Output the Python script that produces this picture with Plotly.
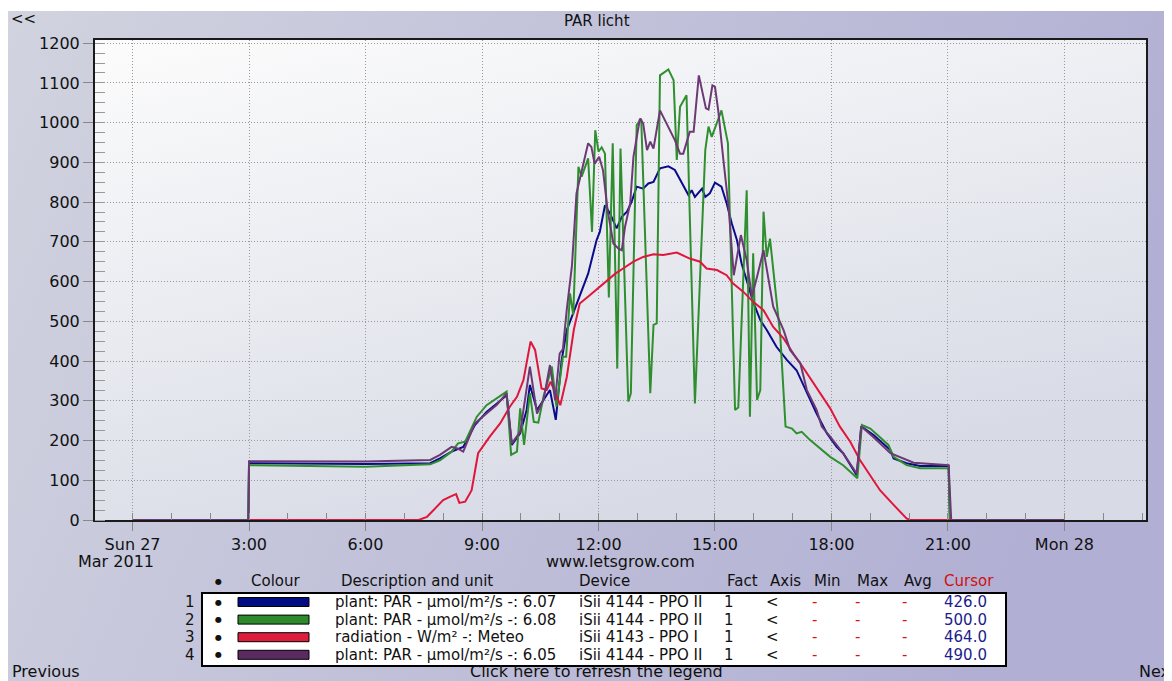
import base64
import plotly.graph_objects as go

# ---------------- data ----------------
DAY = "2011-03-27"

blue_series = [("00:00", 0), ("02:59", 0), ("03:00", 143), ("06:00", 141), ("07:40", 143), ("07:55", 155),
               ("08:13", 172), ("08:31", 184), ("08:49", 239), ("09:07", 272), ("09:23", 293), ("09:38", 314),
               ("09:46", 189), ("09:59", 218), ("10:09", 277), ("10:14", 340), ("10:25", 277), ("10:35", 302),
               ("10:45", 327), ("10:54", 252), ("11:03", 402), ("11:11", 478), ("11:21", 520), ("11:31", 562),
               ("11:44", 620), ("11:57", 704), ("12:02", 725), ("12:10", 792), ("12:18", 771), ("12:28", 734),
               ("12:36", 763), ("12:44", 776), ("12:51", 800), ("12:59", 839), ("13:09", 834), ("13:17", 847),
               ("13:25", 851), ("13:35", 885), ("13:48", 890), ("13:58", 881), ("14:09", 847), ("14:19", 818),
               ("14:24", 830), ("14:29", 813), ("14:40", 834), ("14:45", 813), ("14:52", 822), ("15:00", 849),
               ("15:10", 839), ("15:18", 797), ("15:26", 746), ("15:34", 704), ("15:41", 646), ("15:52", 587),
               ("15:59", 549), ("16:10", 503), ("16:20", 478), ("16:35", 436), ("16:51", 403), ("17:06", 377),
               ("17:22", 319), ("17:37", 268), ("17:53", 218), ("18:08", 184), ("18:18", 168), ("18:39", 113),
               ("18:46", 236), ("19:05", 214), ("19:31", 176), ("19:36", 155), ("19:56", 143), ("20:17", 136),
               ("21:01", 136), ("21:03", 0), ("23:59", 0)]

green_series = [("00:00", 0), ("02:59", 0), ("03:00", 138), ("06:00", 134), ("07:40", 140), ("07:55", 150),
                ("08:13", 172), ("08:23", 193), ("08:34", 197), ("08:52", 260), ("09:07", 289), ("09:20", 304),
                ("09:38", 323), ("09:45", 164), ("09:54", 172), ("09:59", 281), ("10:05", 189), ("10:14", 319),
                ("10:20", 247), ("10:27", 245), ("10:35", 310), ("10:48", 386), ("10:55", 285), ("11:05", 411),
                ("11:10", 411), ("11:16", 570), ("11:21", 516), ("11:29", 889), ("11:34", 864), ("11:44", 910),
                ("11:50", 725), ("11:55", 981), ("12:00", 927), ("12:05", 938), ("12:10", 922), ("12:16", 560),
                ("12:22", 948), ("12:29", 381), ("12:34", 935), ("12:46", 298), ("12:50", 319), ("12:59", 994),
                ("13:06", 1010), ("13:20", 319), ("13:25", 491), ("13:30", 495), ("13:35", 1119), ("13:48", 1134),
                ("13:56", 1107), ("14:01", 906), ("14:06", 1040), ("14:16", 1069), ("14:29", 293), ("14:45", 931),
                ("14:50", 990), ("14:55", 964), ("15:10", 1031), ("15:20", 948), ("15:31", 277), ("15:36", 283),
                ("15:49", 830), ("15:54", 260), ("15:59", 671), ("16:05", 302), ("16:10", 327), ("16:15", 776),
                ("16:20", 662), ("16:25", 708), ("16:33", 579), ("16:41", 461), ("16:49", 235), ("16:59", 230),
                ("17:06", 218), ("17:14", 222), ("17:27", 201), ("17:40", 184), ("17:58", 159), ("18:18", 138),
                ("18:40", 105), ("18:47", 239), ("19:00", 230), ("19:28", 189), ("19:36", 159), ("19:56", 138),
                ("20:17", 130), ("21:01", 130), ("21:03", 0), ("23:59", 0)]

red_series = [("00:00", 0), ("07:22", 0), ("07:35", 8), ("08:00", 50), ("08:11", 59), ("08:20", 65),
              ("08:25", 43), ("08:34", 46), ("08:44", 75), ("08:54", 168), ("09:12", 210), ("09:28", 243),
              ("09:43", 285), ("09:54", 310), ("10:04", 352), ("10:15", 449), ("10:22", 428), ("10:32", 331),
              ("10:40", 327), ("10:46", 348), ("11:01", 289), ("11:11", 360), ("11:22", 480), ("11:31", 545),
              ("11:47", 566), ("12:02", 587), ("12:13", 604), ("12:26", 620), ("12:38", 633), ("12:54", 650),
              ("13:09", 662), ("13:25", 669), ("13:40", 667), ("14:01", 673), ("14:21", 658), ("14:37", 650),
              ("14:47", 633), ("15:03", 629), ("15:18", 616), ("15:28", 595), ("15:44", 574), ("15:59", 549),
              ("16:15", 528), ("16:30", 486), ("16:46", 457), ("17:01", 419), ("17:17", 382), ("17:32", 344),
              ("17:42", 320), ("17:58", 281), ("18:13", 235), ("18:29", 197), ("18:44", 151), ("19:00", 113),
              ("19:15", 75), ("19:36", 38), ("19:56", 4), ("20:01", 0), ("23:59", 0)]

purple_series = [("00:00", 0), ("02:59", 0), ("03:00", 148), ("06:00", 147), ("07:40", 151), ("07:55", 164),
                 ("08:13", 184), ("08:22", 180), ("08:31", 172), ("08:49", 243), ("09:07", 268), ("09:23", 290),
                 ("09:38", 319), ("09:46", 193), ("09:59", 222), ("10:14", 386), ("10:25", 268), ("10:35", 302),
                 ("10:45", 390), ("10:53", 302), ("11:00", 419), ("11:05", 430), ("11:11", 530), ("11:19", 640),
                 ("11:26", 822), ("11:34", 880), ("11:44", 948), ("11:49", 939), ("11:54", 897), ("12:01", 914),
                 ("12:07", 880), ("12:14", 780), ("12:23", 696), ("12:31", 683), ("12:36", 679), ("12:41", 738),
                 ("12:49", 797), ("12:54", 914), ("13:04", 1010), ("13:09", 998), ("13:15", 931), ("13:20", 952),
                 ("13:25", 935), ("13:35", 1031), ("13:48", 990), ("13:58", 956), ("14:06", 922), ("14:11", 922),
                 ("14:21", 977), ("14:27", 977), ("14:35", 1119), ("14:46", 1036), ("14:50", 1033), ("14:56", 1094),
                 ("15:00", 1090), ("15:05", 1031), ("15:13", 906), ("15:21", 788), ("15:29", 616), ("15:40", 717),
                 ("15:49", 654), ("15:57", 562), ("16:05", 612), ("16:15", 679), ("16:30", 537), ("16:46", 478),
                 ("16:56", 428), ("17:12", 394), ("17:22", 327), ("17:37", 277), ("17:45", 235), ("17:58", 210),
                 ("18:18", 168), ("18:39", 117), ("18:46", 235), ("19:05", 208), ("19:31", 168), ("19:47", 158),
                 ("20:07", 144), ("21:01", 138), ("21:05", 0), ("23:59", 0)]

line_colors = ["#0b0b8a", "#2f8f2f", "#e0163c", "#6b3a74"]
swatch_colors = ["#000c80", "#2d8b2d", "#dc1e3c", "#5b2a63"]

x_tick_hours = [0, 3, 6, 9, 12, 15, 18, 21, 24]
x_tick_labels = ["Sun 27", "3:00", "6:00", "9:00", "12:00", "15:00", "18:00", "21:00", "Mon 28"]

legend_headers = ["\u25cf", "Colour", "Description and unit", "Device", "Fact", "Axis", "Min", "Max", "Avg", "Cursor"]
legend_desc = ["plant: PAR - \u00b5mol/m\u00b2/s -: 6.07", "plant: PAR - \u00b5mol/m\u00b2/s -: 6.08",
               "radiation - W/m\u00b2 -: Meteo", "plant: PAR - \u00b5mol/m\u00b2/s -: 6.05"]
legend_device = ["iSii 4144 - PPO II", "iSii 4144 - PPO II", "iSii 4143 - PPO I", "iSii 4144 - PPO II"]
legend_fact = ["1", "1", "1", "1"]
legend_axis = ["&lt;", "&lt;", "&lt;", "&lt;"]
legend_min = ["-", "-", "-", "-"]
legend_max = ["-", "-", "-", "-"]
legend_avg = ["-", "-", "-", "-"]
legend_cursor = [426.0, 500.0, 464.0, 490.0]

# ---------------- geometry helpers (page pixel coordinates) ----------------
PAGE_W, PAGE_H = 1172, 681
OFF = 8                      # default body margin of the html page
W, H = PAGE_W - OFF, PAGE_H - OFF
L, R, T, B = 95, 1146, 40, 520   # plot area on the page


def px(x):
    return (x - L) / (R - L)


def py(y):
    return (B - y) / (B - T)


def stamp(t):
    return f"{DAY} {t}"


def hour_stamp(h):
    if h >= 24:
        return f"2011-03-28 {h - 24:02d}:00"
    return f"{DAY} {h:02d}:00"


def svg_uri(c1, c2, x2, y2):
    svg = ('<svg xmlns="http://www.w3.org/2000/svg" width="200" height="200" viewBox="0 0 200 200" '
           'preserveAspectRatio="none"><defs><linearGradient id="g" x1="0" y1="0" '
           f'x2="{x2}" y2="{y2}"><stop offset="0" stop-color="{c1}"/><stop offset="1" stop-color="{c2}"/>'
           '</linearGradient></defs><rect width="200" height="200" fill="url(#g)"/></svg>')
    return "data:image/svg+xml;base64," + base64.b64encode(svg.encode()).decode()


FONT = "DejaVu Sans"

fig = go.Figure()
for series, col in zip([blue_series, green_series, red_series, purple_series], line_colors):
    times, vals = zip(*series)
    fig.add_trace(go.Scatter(x=[stamp(t) for t in times], y=list(vals), mode="lines",
                             line=dict(color=col, width=2), showlegend=False, hoverinfo="x+y"))

images = [
    dict(source=svg_uri("#d1d3df", "#b1b0d4", 1, 0.25), xref="paper", yref="paper",
         x=px(OFF), y=py(11), sizex=(PAGE_W - OFF + 5) / (R - L), sizey=(PAGE_H - 11 + 5) / (B - T),
         xanchor="left", yanchor="top", sizing="stretch", layer="below"),
    dict(source=svg_uri("#fcfcfc", "#d8dbe6", 0.45, 1), xref="paper", yref="paper",
         x=0, y=1, sizex=1, sizey=1, xanchor="left", yanchor="top", sizing="stretch", layer="below"),
]

annotations = []


def text(x, y, s, size=15, color="#111111", anchor="left"):
    annotations.append(dict(x=px(x), y=py(y), xref="paper", yref="paper", text=s, showarrow=False,
                            xanchor=anchor, yanchor="middle", font=dict(family=FONT, size=size, color=color)))


text(597, 21, "PAR licht", size=15, anchor="center")
text(9, 19, "&lt;&lt;", size=15)
text(116, 561, "Mar 2011", size=16, anchor="center")
text(620, 561, "www.letsgrow.com", size=16, anchor="center")
text(10, 671, "Previous", size=16)
text(596, 671, "Click here to refresh the legend", size=16, anchor="center")
text(1137, 671, "Next", size=16)

# legend table header
header_x = [218, 249, 339, 577, 725, 768, 812, 855, 902, 942]
for hx, h in zip(header_x, legend_headers):
    if h == "\u25cf":
        text(hx, 581, h, size=8, anchor="center")
    else:
        text(hx, 581, h, size=15, color="#d01010" if h == "Cursor" else "#111111")

shapes = [dict(type="rect", xref="paper", yref="paper", x0=px(202), x1=px(1006), y0=py(666), y1=py(593),
               line=dict(color="#000000", width=2), fillcolor="#ffffff", layer="above")]

for i in range(4):
    ry = 602 + i * 17.6
    text(197, ry, str(i + 1), size=15, anchor="right")
    text(218, ry, "\u25cf", size=8, anchor="center")
    shapes.append(dict(type="rect", xref="paper", yref="paper", x0=px(238), x1=px(309),
                       y0=py(ry + 4.5), y1=py(ry - 4.5), fillcolor=swatch_colors[i],
                       line=dict(color="#000000", width=1), layer="above"))
    text(333, ry, legend_desc[i])
    text(577, ry, legend_device[i])
    text(729, ry, legend_fact[i], anchor="center")
    text(772, ry, legend_axis[i], anchor="center")
    text(814, ry, legend_min[i], color="#e01010", anchor="center")
    text(857, ry, legend_max[i], color="#e01010", anchor="center")
    text(904, ry, legend_avg[i], color="#e01010", anchor="center")
    text(942, ry, f"{legend_cursor[i]:.1f}", color="#1c1c8c")

fig.update_layout(
    width=W, height=H, autosize=False,
    margin=dict(l=L - OFF, r=W - (R - OFF), t=T - OFF, b=H - (B - OFF), pad=0),
    paper_bgcolor="#ffffff", plot_bgcolor="#f2f3f6",
    images=images, annotations=annotations, shapes=shapes,
    showlegend=False,
    font=dict(family=FONT, size=15, color="#111111"),
)

fig.update_xaxes(
    type="date", range=["2011-03-26 23:02", "2011-03-28 02:06"],
    tickmode="array", tickvals=[hour_stamp(h) for h in x_tick_hours], ticktext=x_tick_labels,
    ticks="outside", ticklen=9, tickwidth=1, tickcolor="#888888",
    tickfont=dict(family=FONT, size=16, color="#111111"),
    showgrid=True, gridcolor="#999999", gridwidth=1, griddash="1px,2px",
    showline=True, linecolor="#1a1a1a", linewidth=2, mirror=True, zeroline=False,
    minor=dict(ticks="inside", ticklen=7, tickwidth=1, tickcolor="#888888", tickmode="linear",
               tick0=hour_stamp(0), dtick=3600000, showgrid=False),
)

fig.update_yaxes(
    range=[0, 1208], tickmode="linear", tick0=0, dtick=100,
    ticks="outside", ticklen=10, tickwidth=1, tickcolor="#888888",
    tickfont=dict(family=FONT, size=16, color="#111111"),
    showgrid=True, gridcolor="#999999", gridwidth=1, griddash="1px,2px",
    showline=True, linecolor="#1a1a1a", linewidth=2, mirror=True, zeroline=False,
    minor=dict(ticks="inside", ticklen=10, tickwidth=1, tickcolor="#999999", dtick=25, showgrid=False),
)

fig.write_html("out.html")
